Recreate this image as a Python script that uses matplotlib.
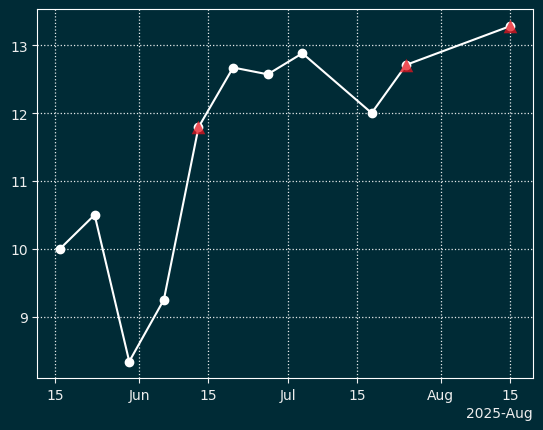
import numpy as np
import matplotlib
matplotlib.use("Agg")
import matplotlib.pyplot as plt
import matplotlib.dates as mdates

# weekly values
dates = np.array(["2025-05-16", "2025-05-23", "2025-05-30", "2025-06-06",
                  "2025-06-13", "2025-06-20", "2025-06-27", "2025-07-04",
                  "2025-07-18", "2025-07-25", "2025-08-15"], dtype="datetime64[D]")
values = [10.0, 10.5, 8.34, 9.25, 11.79, 12.67, 12.57, 12.88, 12.0, 12.71, 13.28]

# flagged points
flag_dates = np.array(["2025-06-13", "2025-07-25", "2025-08-15"], dtype="datetime64[D]")
flag_values = [11.79, 12.71, 13.28]

bg = "#002b36"
fg = "#eeeeee"

fig, ax = plt.subplots(figsize=(5.43, 4.31), dpi=100)
fig.patch.set_facecolor(bg)
ax.set_facecolor(bg)
fig.subplots_adjust(left=0.069, right=0.981, top=0.976, bottom=0.12)

ax.plot(dates, values, color="white", marker="o", markersize=6, linewidth=1.5, zorder=3)
ax.scatter(flag_dates, flag_values, marker="^", s=95, color="#e8141e", alpha=0.75,
           linewidths=0, zorder=4)

locator = mdates.AutoDateLocator()
ax.xaxis.set_major_locator(locator)
ax.xaxis.set_major_formatter(mdates.ConciseDateFormatter(locator))

ax.grid(True, color="white", linestyle=":", linewidth=0.9, alpha=0.9)
for s in ax.spines.values():
	s.set_color("white")
ax.tick_params(colors=fg, labelcolor=fg)
ax.xaxis.get_offset_text().set_color(fg)

plt.savefig("out.png", dpi=100, facecolor=bg)
